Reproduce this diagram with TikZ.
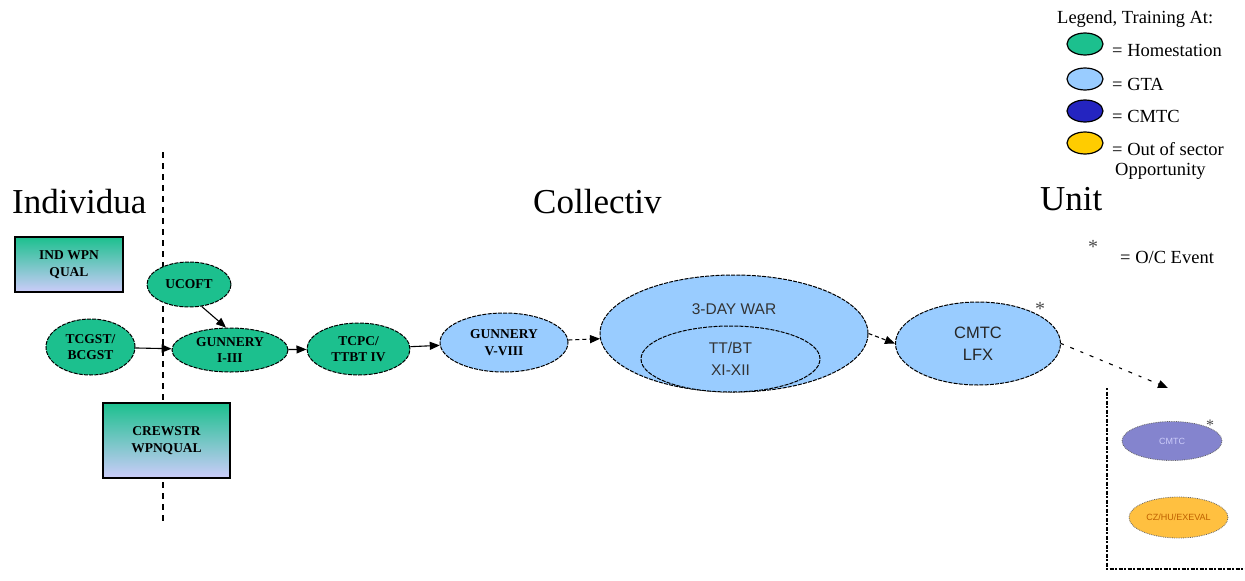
\documentclass[tikz,border=0pt]{standalone}
\usepackage{fontspec}
\setmainfont{Liberation Serif}
\setsansfont{Liberation Sans}
\usetikzlibrary{shapes.geometric,arrows.meta}
\definecolor{hgreen}{RGB}{28,192,142}
\definecolor{gtablue}{RGB}{153,204,255}
\definecolor{cmtcblue}{RGB}{36,36,192}
\definecolor{oosyel}{RGB}{255,204,0}
\definecolor{lav}{RGB}{204,204,250}
\definecolor{purp}{RGB}{132,132,206}
\definecolor{orng}{RGB}{255,192,64}
\begin{document}
\begin{tikzpicture}[x=1pt,y=-1pt,
  ell/.style={ellipse, draw=black, dash pattern=on 4pt off 1.2pt, line width=1pt, inner sep=0pt, align=center},
  gell/.style={ell, fill=hgreen, font=\bfseries\fontsize{13.5}{16}\selectfont},
  bell/.style={ell, fill=gtablue},
  qbox/.style={rectangle, draw=black, line width=1.4pt, top color=hgreen, bottom color=lav, inner sep=0pt, align=center, font=\bfseries\fontsize{13.5}{17}\selectfont},
  arr/.style={-{Triangle[length=10pt,width=8pt]}, line width=1.1pt},
  darr/.style={arr, dash pattern=on 4pt off 3pt},
  title/.style={anchor=base west, inner sep=0pt, font=\fontsize{35}{40}\selectfont},
  legtxt/.style={anchor=west, inner sep=0pt, font=\fontsize{18.5}{22}\selectfont},
  legell/.style={ellipse, draw=black, line width=1.2pt, minimum width=36pt, minimum height=22pt, inner sep=0pt},
  star/.style={inner sep=0pt, font=\fontsize{20}{20}\selectfont, text=black!70}
]
\useasboundingbox (0,0) rectangle (1245,581);
\fill[white] (0,0) rectangle (1245,581);

% titles
\node[title] (tind) at (12,213) {Individua};
\node[title] (tcol) at (533,213) {Collectiv};
\node[title] (tunit) at (1040,210) {Unit};

% dashed divider
\coordinate (dvTop) at (163,152);
\coordinate (dvBot) at (163,525);
\draw[line width=1.1pt, dash pattern=on 6pt off 5pt] (dvTop) -- (dvBot);

% boxes
\node[qbox, minimum width=108pt, minimum height=55pt] (indwpn) at (69,264.5) {IND WPN\\QUAL};
\node[qbox, minimum width=127pt, minimum height=75pt] (crew) at (166.5,440.5) {CREWSTR\\WPNQUAL};

% green ellipses
\node[gell, minimum width=84pt, minimum height=45pt] (ucoft) at (189,284.5) {UCOFT};
\node[gell, minimum width=89pt, minimum height=56pt] (tcgst) at (90.5,347) {TCGST/\\BCGST};
\node[gell, minimum width=116pt, minimum height=44pt] (gun1) at (230,350) {GUNNERY\\I-III};
\node[gell, minimum width=103pt, minimum height=52pt] (tcpc) at (358.5,349) {TCPC/\\TTBT IV};

% blue ellipses
\node[bell, minimum width=128pt, minimum height=59pt, font=\bfseries\fontsize{13.5}{17}\selectfont] (gun5) at (504,342.5) {GUNNERY\\V-VIII};
\node[bell, minimum width=268pt, minimum height=117pt] (war) at (734,333.5) {};
\node[inner sep=0pt, font=\sffamily\fontsize{15.5}{18}\selectfont, text=black!80] (wartxt) at (734,309) {3-DAY WAR};
\node[bell, minimum width=179pt, minimum height=66pt, font=\sffamily\fontsize{15.5}{22}\selectfont, text=black!80] (ttbt) at (730.5,359) {TT/BT\\XI-XII};
\node[bell, minimum width=165pt, minimum height=83pt, font=\sffamily\fontsize{16.5}{22}\selectfont, text=black!85] (lfx) at (978,343.5) {CMTC\\LFX};
\node[star] (starlfx) at (1040,309) {*};

% connectors
\draw[arr] (tcgst) -- (gun1);
\draw[arr] (ucoft.-60) -- (gun1.100);
\draw[arr] (gun1) -- (tcpc);
\draw[arr] (tcpc) -- (gun5);
\draw[darr] (gun5) -- (war);
\draw[darr] (war.east) -- (lfx.west);

% out-of-sector bracket
\coordinate (dEnd) at (1168,388);
\draw[arr, dash pattern=on 3pt off 7pt on 4pt off 7pt] (lfx.east) -- (dEnd);
\coordinate (bTop) at (1107,388);
\coordinate (bBot) at (1107,569);
\coordinate (bRight) at (1245,569);
\draw[line width=1.2pt, dash pattern=on 2pt off 1.5pt on 4pt off 1.5pt] (bTop) -- (bBot) -- (bRight);

\node[ellipse, fill=purp, draw=black!60, densely dotted, line width=0.8pt, minimum width=100pt, minimum height=39pt, inner sep=0pt, font=\sffamily\fontsize{9}{10}\selectfont, text=lav] (cmtc2) at (1172,441) {CMTC};
\node[star, font=\fontsize{16}{16}\selectfont] (starc2) at (1210,425) {*};
\node[ellipse, fill=orng, draw=black!60, densely dotted, line width=0.8pt, minimum width=99pt, minimum height=41pt, inner sep=0pt, font=\sffamily\fontsize{9}{10}\selectfont, text=orange!75!black] (czhu) at (1178.5,517.5) {CZ/HU/EXEVAL};

% legend
\node[legtxt] (legt) at (1057,19) {Legend, Training At:};
\node[legell, fill=hgreen] (lg1) at (1085,44) {};
\node[legtxt] (lt1) at (1112,50) {= Homestation};
\node[legell, fill=gtablue] (lg2) at (1085,79) {};
\node[legtxt] (lt2) at (1112,84) {= GTA};
\node[legell, fill=cmtcblue] (lg3) at (1085,111) {};
\node[legtxt] (lt3) at (1112,116) {= CMTC};
\node[legell, fill=oosyel] (lg4) at (1085,143) {};
\node[legtxt] (lt4) at (1112,149) {= Out of sector};
\node[legtxt] (lt5) at (1115,171) {Opportunity};
\node[star] (starleg) at (1093,247) {*};
\node[legtxt] (lt6) at (1120,257) {= O/C Event};
\end{tikzpicture}
\end{document}
